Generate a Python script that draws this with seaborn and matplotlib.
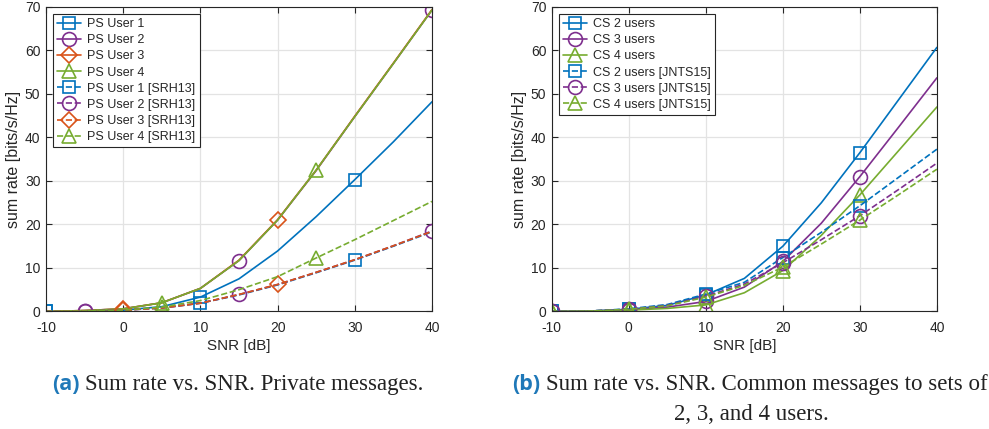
import numpy as np
import matplotlib
matplotlib.use('Agg')
import matplotlib.pyplot as plt
from matplotlib.lines import Line2D
import seaborn as sns

# Data
snr = [-10, -5, 0, 5, 10, 15, 20, 25, 30, 35, 40]

# (a) private messages
ps_user1 = [0, 0.1, 0.3, 1.1, 3.3, 7.5, 13.9, 21.8, 30.3, 39.0, 48.2]
ps_user2 = [0, 0.2, 0.6, 2.0, 5.3, 11.7, 21.0, 32.4, 44.8, 57.0, 69.3]
ps_user3 = [0, 0.2, 0.6, 2.0, 5.3, 11.8, 21.1, 32.5, 44.9, 57.1, 69.4]
ps_user4 = [0, 0.2, 0.6, 2.0, 5.3, 11.7, 21.0, 32.5, 44.8, 57.0, 69.3]
srh_user1 = [0, 0.1, 0.3, 0.8, 1.9, 3.8, 6.1, 8.9, 11.8, 15.0, 18.3]
srh_user2 = [0, 0.1, 0.3, 0.8, 1.9, 3.9, 6.2, 9.0, 11.9, 15.1, 18.5]
srh_user3 = [0, 0.1, 0.3, 0.8, 1.9, 3.9, 6.2, 9.0, 11.9, 15.1, 18.4]
srh_user4 = [0, 0.1, 0.3, 1.0, 2.5, 5.0, 8.0, 12.3, 16.5, 20.9, 25.3]

# (b) common messages
cs_2users = [0, 0.1, 0.5, 1.4, 3.8, 7.6, 15.0, 25.0, 36.5, 48.6, 60.7]
cs_3users = [0, 0.1, 0.4, 1.0, 2.3, 5.6, 11.5, 20.3, 31.0, 42.3, 53.7]
cs_4users = [0, 0.1, 0.3, 0.7, 1.5, 4.3, 9.4, 17.5, 26.8, 36.9, 47.0]
jn_2users = [0, 0.1, 0.6, 1.6, 4.0, 6.7, 12.4, 18.2, 24.3, 30.8, 37.3]
jn_3users = [0, 0.1, 0.5, 1.4, 3.5, 6.3, 11.2, 16.5, 22.0, 28.0, 34.1]
jn_4users = [0, 0.1, 0.5, 1.3, 3.3, 6.0, 10.2, 15.5, 21.0, 26.8, 32.7]

# MATLAB default colours
blue, orange, purple, green = '#0072BD', '#D95319', '#7E2F8E', '#77AC30'
msize = {'s': 8.5, 'o': 10, 'D': 8, '^': 10}

sns.set_theme(style='whitegrid')
plt.rcParams['font.family'] = ['Liberation Sans', 'DejaVu Sans']
plt.rcParams['axes.unicode_minus'] = False

fig = plt.figure(figsize=(9.89, 4.29), dpi=100)
ax1 = fig.add_axes([0.0465, 0.274, 0.3903, 0.7098])
ax2 = fig.add_axes([0.558, 0.274, 0.3893, 0.7098])


def draw_series(ax, y, label, color, ls, marker, marks):
    x = np.array(snr)
    y = np.array(y)
    sns.lineplot(x=x, y=y, ax=ax, color=color, linestyle=ls, linewidth=1.2,
                 legend=False)
    ax.plot(x[marks], y[marks], linestyle='none', marker=marker,
            markersize=msize[marker], mfc='none', mec=color, mew=1.2)
    return Line2D([], [], color=color, linestyle=ls, linewidth=1.2,
                  marker=marker, markersize=msize[marker], mfc='none',
                  mec=color, mew=1.2, label=label)


left_series = [
    (ps_user1, 'PS User 1', blue, '-', 's', [0, 4, 8]),
    (ps_user2, 'PS User 2', purple, '-', 'o', [1, 5, 10]),
    (ps_user3, 'PS User 3', orange, '-', 'D', [2, 6]),
    (ps_user4, 'PS User 4', green, '-', '^', [3, 7]),
    (srh_user1, 'PS User 1 [SRH13]', blue, '--', 's', [0, 4, 8]),
    (srh_user2, 'PS User 2 [SRH13]', purple, '--', 'o', [1, 5, 10]),
    (srh_user3, 'PS User 3 [SRH13]', orange, '--', 'D', [2, 6]),
    (srh_user4, 'PS User 4 [SRH13]', green, '--', '^', [3, 7]),
]
right_series = [
    (cs_2users, 'CS 2 users', blue, '-', 's', [0, 2, 4, 6, 8]),
    (cs_3users, 'CS 3 users', purple, '-', 'o', [0, 2, 4, 6, 8]),
    (cs_4users, 'CS 4 users', green, '-', '^', [0, 2, 4, 6, 8]),
    (jn_2users, 'CS 2 users [JNTS15]', blue, '--', 's', [0, 2, 4, 6, 8]),
    (jn_3users, 'CS 3 users [JNTS15]', purple, '--', 'o', [0, 2, 4, 6, 8]),
    (jn_4users, 'CS 4 users [JNTS15]', green, '--', '^', [0, 2, 4, 6, 8]),
]

for ax, series in [(ax1, left_series), (ax2, right_series)]:
    handles = [draw_series(ax, *s) for s in series]
    ax.set_xlim(-10, 40)
    ax.set_ylim(0, 70)
    ax.set_xticks([-10, 0, 10, 20, 30, 40])
    ax.set_yticks(range(0, 80, 10))
    ax.grid(True, color='#e3e3e3', linewidth=0.9)
    ax.set_facecolor('white')
    for sp in ax.spines.values():
        sp.set_color('#262626')
        sp.set_linewidth(0.8)
    ax.tick_params(direction='in', length=4, width=0.8, color='#262626',
                   top=True, right=True, bottom=True, left=True,
                   labelsize=10, labelcolor='#262626')
    ax.tick_params(axis='x', pad=7)
    ax.tick_params(axis='y', pad=4)
    ax.set_xlabel('SNR [dB]', fontsize=11, color='#262626', labelpad=3)
    ax.set_ylabel('sum rate [bits/s/Hz]', fontsize=11.5, color='#262626',
                  labelpad=3)
    leg = ax.legend(handles=handles, loc='upper left', fontsize=9,
                    frameon=True, fancybox=False, edgecolor='#262626',
                    framealpha=1, handlelength=1.9, handletextpad=0.5,
                    labelspacing=0.33, borderpad=0.35, borderaxespad=0.55)
    leg.get_frame().set_linewidth(0.8)

# Captions: blue sans label followed by serif text
fig.canvas.draw()
renderer = fig.canvas.get_renderer()
W = fig.get_figwidth() * fig.dpi


def caption(x0, y, tag, text, center=None):
    t = fig.text(x0, y, tag, fontsize=15.5, fontweight='bold',
                 family='Open Sans', color='#1f78b8', va='baseline')
    bb = t.get_window_extent(renderer)
    s = fig.text(bb.x1 / W + 0.006, y, text, fontsize=16.5,
                 family='Liberation Serif', color='#222222', va='baseline')
    if center is not None:
        x1 = s.get_window_extent(renderer).x1 / W
        shift = center - (x0 + x1) / 2
        t.set_x(t.get_position()[0] + shift)
        s.set_x(s.get_position()[0] + shift)


caption(0.063, 0.091, '(a)', 'Sum rate vs. SNR. Private messages.',
        center=0.2405)
caption(0.518, 0.091, '(b)', 'Sum rate vs. SNR. Common messages to sets of')
fig.text(0.760, 0.021, '2, 3, and 4 users.', fontsize=16.5,
         family='Liberation Serif', color='#222222', ha='center',
         va='baseline')

fig.savefig('out.png', dpi=100)
